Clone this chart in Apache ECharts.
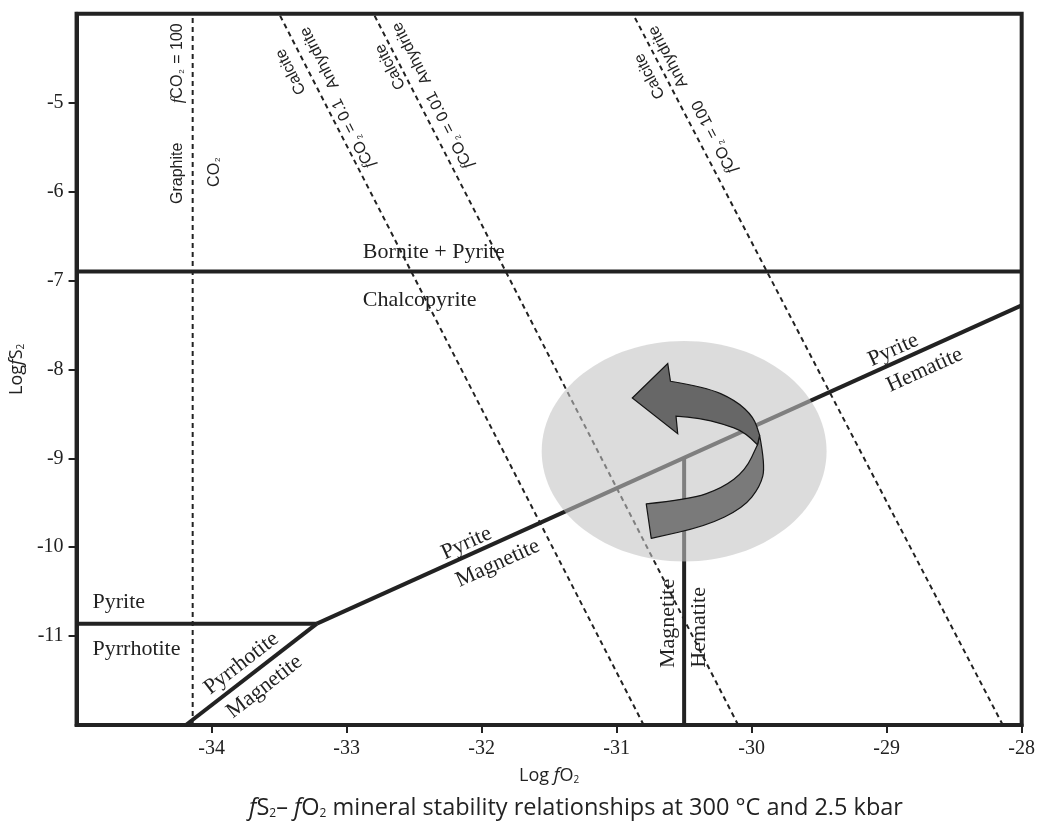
<!DOCTYPE html>
<html>
<head>
<meta charset="utf-8">
<script src="https://cdn.jsdelivr.net/npm/echarts@6/dist/echarts.min.js"></script>
<style>
  html, body { margin: 0; padding: 0; background: #fff; }
  #chart { width: 1038px; height: 825px; }
</style>
</head>
<body>
<div id="chart"></div>
<script>
// Axis extents and ticks (log units)
const xRange = [-35, -28];
const yRange = [-12, -4];
const xTicks = [-34, -33, -32, -31, -30, -29, -28];
const yTicks = [-11, -10, -9, -8, -7, -6, -5];

// Solid phase boundaries, points as [log fO2, log fS2]
const borniteChalcopyrite = [[-35, -6.9], [-28, -6.9]];
const pyritePyrrhotite = [[-35, -10.86], [-33.22, -10.86]];
const pyrrhotiteMagnetite = [[-34.19, -12], [-33.22, -10.86]];
const pyriteMagnetiteHematite = [[-33.22, -10.86], [-28, -7.28]];
const magnetiteHematite = [[-30.5, -12], [-30.5, -9.0]];

// Dashed reaction lines (listed bottom to top)
const graphiteCO2 = [[-34.14, -12], [-34.14, -4]];
const calciteAnhydrite01 = [[-30.8, -12], [-33.5, -4]];
const calciteAnhydrite001 = [[-30.1, -12], [-32.8, -4]];
const calciteAnhydrite100 = [[-28.14, -12], [-30.88, -4]];

// Highlighted field: centre and half-axes in log units
const fieldCenter = [-30.5, -8.92];
const fieldRadius = [1.055, 1.24];

// Text annotations anchored in data units
const annotations = [
  { t: 'Bornite + Pyrite', at: [-32.88, -6.677], align: 'left' },
  { t: 'Chalcopyrite', at: [-32.88, -7.22], align: 'left' },
  { t: 'Pyrite', at: [-34.882, -10.614], align: 'left' },
  { t: 'Pyrrhotite', at: [-34.882, -11.146], align: 'left' },
  { t: 'Pyrrhotite', at: [-33.779, -11.307], along: pyrrhotiteMagnetite },
  { t: 'Magnetite', at: [-33.608, -11.57], along: pyrrhotiteMagnetite },
  { t: 'Pyrite', at: [-32.112, -9.957], along: pyriteMagnetiteHematite },
  { t: 'Magnetite', at: [-31.88, -10.182], along: pyriteMagnetiteHematite },
  { t: 'Pyrite', at: [-28.951, -7.783], along: pyriteMagnetiteHematite },
  { t: 'Hematite', at: [-28.718, -8.008], along: pyriteMagnetiteHematite },
  { t: 'Magnetite', at: [-30.618, -10.857], rotate: 90 },
  { t: 'Hematite', at: [-30.39, -10.902], rotate: 90 },
  { t: 'Graphite', at: [-34.252, -5.795], rotate: 90, sans: true },
  { t: 'CO{s|2}', at: [-33.98, -5.777], rotate: 90, sans: true },
  { t: '{i|f}CO{s|2} = 100', at: [-34.252, -4.558], rotate: 90, sans: true },
  { t: 'Calcite', at: [-33.412, -4.652], along: calciteAnhydrite01, sans: true },
  { t: 'Anhydrite', at: [-33.199, -4.498], along: calciteAnhydrite01, sans: true },
  { t: '{i|f}CO{s|2} = 0.1', at: [-32.949, -5.345], along: calciteAnhydrite01, sans: true },
  { t: 'Calcite', at: [-32.676, -4.596], along: calciteAnhydrite001, sans: true },
  { t: 'Anhydrite', at: [-32.517, -4.445], along: calciteAnhydrite001, sans: true },
  { t: '{i|f}CO{s|2} = 0.01', at: [-32.235, -5.308], along: calciteAnhydrite001, sans: true },
  { t: 'Calcite', at: [-30.755, -4.701], along: calciteAnhydrite100, sans: true },
  { t: 'Anhydrite', at: [-30.618, -4.484], along: calciteAnhydrite100, sans: true },
  { t: '{i|f}CO{s|2} = 100', at: [-30.274, -5.384], along: calciteAnhydrite100, sans: true }
];

// Outline of the curved arrow, in units of the field half-axes from its centre
const arrowFront = {
  head: [[-0.057, -0.318], [-0.045, -0.158], [-0.364, -0.482], [-0.115, -0.795], [-0.096, -0.634]],
  outer: [[-0.096, -0.634], [0.152, -0.582], [0.361, -0.461], [0.489, -0.309], [0.530, -0.143]],
  inner: [[0.515, -0.058], [0.431, -0.173], [0.268, -0.249], [0.106, -0.300], [-0.057, -0.318]]
};
const arrowBack = {
  outer: [[0.530, -0.143], [0.570, 0.130], [0.535, 0.320], [0.415, 0.515], [0.152, 0.680], [-0.231, 0.791]],
  inner: [[-0.266, 0.478], [0.036, 0.439], [0.268, 0.336], [0.431, 0.175], [0.515, -0.058]]
};

const INK = '#222';
const SERIF = '"Liberation Serif", "DejaVu Serif", serif';
const SANS = '"Liberation Sans", Arial, sans-serif';
const CAPTION = '"Open Sans", "Liberation Sans", sans-serif';

function boundary(data, dashed) {
  return {
    type: 'line',
    data: data,
    showSymbol: false,
    symbol: 'none',
    silent: true,
    z: 3,
    lineStyle: dashed
      ? { color: INK, width: 2, type: [5, 4] }
      : { color: INK, width: 4 }
  };
}

// Smooth path through points using quadratic segments between midpoints
function smoothPath(pts, start) {
  let d = start ? 'M' + pts[0][0] + ' ' + pts[0][1] : 'L' + pts[0][0] + ' ' + pts[0][1];
  for (let i = 1; i < pts.length - 1; i++) {
    const mx = (pts[i][0] + pts[i + 1][0]) / 2;
    const my = (pts[i][1] + pts[i + 1][1]) / 2;
    d += 'Q' + pts[i][0] + ' ' + pts[i][1] + ' ' + mx + ' ' + my;
  }
  const last = pts[pts.length - 1];
  d += 'L' + last[0] + ' ' + last[1];
  return d;
}

const sansRich = {
  i: { fontFamily: SERIF, fontStyle: 'italic', fontSize: 17, fill: INK },
  s: { fontFamily: SANS, fontSize: 8, fill: INK, verticalAlign: 'bottom', padding: [6, 1, 0, 1] }
};

const nameRich = {
  n: { fontFamily: CAPTION, fontSize: 18, color: INK },
  i: { fontFamily: CAPTION, fontStyle: 'italic', fontSize: 18, color: INK },
  s: { fontFamily: CAPTION, fontSize: 10, color: INK, verticalAlign: 'bottom', padding: [7, 0, 0, 0] }
};

const chart = echarts.init(document.getElementById('chart'), null, { renderer: 'canvas' });

chart.setOption({
  animation: false,
  backgroundColor: '#fff',
  grid: {
    left: 74, right: 12, top: 13.7, bottom: 100,
    show: true, borderColor: INK, borderWidth: 4, backgroundColor: 'transparent'
  },
  xAxis: {
    type: 'value',
    min: xRange[0], max: xRange[1], interval: 1,
    name: '{n|Log }{i|f}{n|O}{s|2}',
    nameLocation: 'middle',
    nameGap: 42,
    nameTextStyle: { rich: nameRich },
    axisLine: { show: true, lineStyle: { color: INK, width: 4 } },
    axisTick: { show: true, customValues: xTicks, length: 8, lineStyle: { color: INK, width: 2 } },
    axisLabel: {
      customValues: xTicks, margin: 14,
      fontFamily: SERIF, fontSize: 20, color: INK,
      formatter: v => String(v)
    },
    splitLine: { show: false }
  },
  yAxis: {
    type: 'value',
    min: yRange[0], max: yRange[1], interval: 1,
    name: '{n|Log}{i|f}{n|S}{s|2}',
    nameLocation: 'middle',
    nameGap: 42,
    nameTextStyle: { rich: nameRich },
    axisLine: { show: true, lineStyle: { color: INK, width: 4 } },
    axisTick: { show: true, customValues: yTicks, length: 8, lineStyle: { color: INK, width: 2 } },
    axisLabel: {
      customValues: yTicks, margin: 13,
      fontFamily: SERIF, fontSize: 20, color: INK,
      formatter: v => String(v)
    },
    splitLine: { show: false }
  },
  graphic: [{
    type: 'text',
    x: 576, y: 808,
    style: {
      text: '{i|f}S{s|2}– {i|f}O{s|2} mineral stability relationships at 300 °C and 2.5 kbar',
      fontFamily: CAPTION, fontSize: 23.5, fill: INK,
      align: 'center', verticalAlign: 'middle',
      rich: {
        i: { fontFamily: CAPTION, fontStyle: 'italic', fontSize: 23.5, fill: INK },
        s: { fontFamily: CAPTION, fontSize: 12, fill: INK, verticalAlign: 'bottom', padding: [9, 0, 0, 0] }
      }
    }
  }],
  series: [
    boundary(borniteChalcopyrite, false),
    boundary(pyritePyrrhotite, false),
    boundary(pyrrhotiteMagnetite, false),
    boundary(pyriteMagnetiteHematite, false),
    boundary(magnetiteHematite, false),
    boundary(graphiteCO2, true),
    boundary(calciteAnhydrite01, true),
    boundary(calciteAnhydrite001, true),
    boundary(calciteAnhydrite100, true),
    {
      // shaded field with the curved arrow
      type: 'custom',
      silent: true,
      z: 10,
      data: [[fieldCenter[0], fieldCenter[1], fieldRadius[0], fieldRadius[1]]],
      renderItem(params, api) {
        const c = api.coord([api.value(0), api.value(1)]);
        const s = api.size([api.value(2), api.value(3)]);
        const P = p => [c[0] + p[0] * s[0], c[1] + p[1] * s[1]];
        const back = smoothPath(arrowBack.outer.map(P), true) +
          smoothPath(arrowBack.inner.map(P), false) + 'Z';
        const head = arrowFront.head.map(P);
        let front = 'M' + head[0][0] + ' ' + head[0][1];
        for (let i = 1; i < head.length; i++) front += 'L' + head[i][0] + ' ' + head[i][1];
        front += smoothPath(arrowFront.outer.map(P), false) +
          smoothPath(arrowFront.inner.map(P), false) + 'Z';
        return {
          type: 'group',
          children: [
            { type: 'ellipse', shape: { cx: c[0], cy: c[1], rx: s[0], ry: s[1] },
              style: { fill: 'rgba(195,195,195,0.58)' } },
            { type: 'path', shape: { pathData: back },
              style: { fill: '#7a7a7a', stroke: '#151515', lineWidth: 1.2, lineJoin: 'round' } },
            { type: 'path', shape: { pathData: front },
              style: { fill: '#676767', stroke: '#151515', lineWidth: 1.2, lineJoin: 'miter' } }
          ]
        };
      }
    },
    {
      // field and reaction labels
      type: 'custom',
      silent: true,
      z: 20,
      clip: false,
      data: annotations.map((a, i) => [a.at[0], a.at[1], i]),
      renderItem(params, api) {
        const a = annotations[api.value(2)];
        const p = api.coord([api.value(0), api.value(1)]);
        let rot = 0;
        if (a.along) {
          const q0 = api.coord(a.along[0]);
          const q1 = api.coord(a.along[1]);
          rot = Math.atan2(q0[1] - q1[1], q1[0] - q0[0]);
        } else if (a.rotate) {
          rot = a.rotate * Math.PI / 180;
        }
        return {
          type: 'text',
          x: p[0], y: p[1],
          rotation: rot,
          style: {
            text: a.t,
            fontFamily: a.sans ? SANS : SERIF,
            fontSize: a.sans ? 16 : 22,
            fill: INK,
            align: a.align || 'center',
            verticalAlign: 'middle',
            rich: a.sans ? sansRich : undefined
          }
        };
      }
    }
  ]
});
</script>
</body>
</html>
